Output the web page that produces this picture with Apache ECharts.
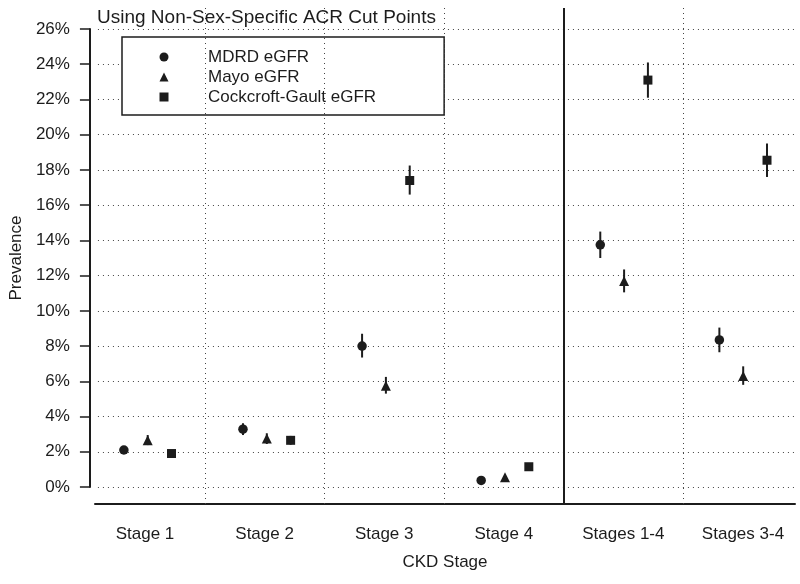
<!DOCTYPE html>
<html>
<head>
<meta charset="utf-8">
<script src="https://cdn.jsdelivr.net/npm/echarts@6/dist/echarts.min.js"></script>
<style>html,body{margin:0;padding:0;background:#fff;}#c{width:800px;height:584px;}</style>
</head>
<body>
<div id="c"></div>
<script>
const categories = ['Stage 1', 'Stage 2', 'Stage 3', 'Stage 4', 'Stages 1-4', 'Stages 3-4'];
const yTicks = [0, 2, 4, 6, 8, 10, 12, 14, 16, 18, 20, 22, 24, 26];

const mdrd     = [2.1, 3.28, 8.0, 0.37, 13.75, 8.35];
const mdrdLow  = [1.95, 2.95, 7.35, 0.3, 13.0, 7.65];
const mdrdHigh = [2.25, 3.62, 8.7, 0.45, 14.5, 9.05];

const mayo     = [2.65, 2.75, 5.75, 0.55, 11.7, 6.3];
const mayoLow  = [2.38, 2.44, 5.3, 0.45, 11.05, 5.8];
const mayoHigh = [2.95, 3.05, 6.25, 0.65, 12.35, 6.85];

const cg       = [1.9, 2.65, 17.4, 1.15, 23.1, 18.55];
const cgLow    = [1.75, 2.4, 16.6, 1.0, 22.1, 17.6];
const cgHigh   = [2.05, 2.9, 18.25, 1.3, 24.1, 19.5];

const seriesNames = ['MDRD eGFR', 'Mayo eGFR', 'Cockcroft-Gault eGFR'];
const groupOffsets = [-0.2, 0, 0.2];
const separators = [0.5, 1.5, 2.5, 3.5, 4.5];

const FONT = "'Liberation Sans', Arial, Helvetica, sans-serif";
const INK = '#1c1c1c';
const X_MIN = -0.418, X_MAX = 5.435;

const groups = [
  {name: seriesNames[0], v: mdrd, lo: mdrdLow, hi: mdrdHigh, symbol: 'circle', size: 9.5},
  {name: seriesNames[1], v: mayo, lo: mayoLow, hi: mayoHigh, symbol: 'triangle', size: 10},
  {name: seriesNames[2], v: cg, lo: cgLow, hi: cgHigh, symbol: 'rect', size: 9}
];

const series = [];
groups.forEach((g, gi) => {
  series.push({
    type: 'custom',
    xAxisIndex: 0, yAxisIndex: 0,
    silent: true,
    z: 3,
    data: g.v.map((_, i) => [i + groupOffsets[gi], g.lo[i], g.hi[i]]),
    renderItem: function (params, api) {
      const p1 = api.coord([api.value(0), api.value(1)]);
      const p2 = api.coord([api.value(0), api.value(2)]);
      return {
        type: 'line',
        shape: {x1: p1[0], y1: p1[1], x2: p2[0], y2: p2[1]},
        style: {stroke: INK, lineWidth: 2}
      };
    }
  });
});
groups.forEach((g, gi) => {
  series.push({
    name: g.name,
    type: 'scatter',
    xAxisIndex: 0, yAxisIndex: 0,
    symbol: g.symbol,
    symbolSize: g.size,
    symbolKeepAspect: true,
    z: 4,
    itemStyle: {color: INK, opacity: 1},
    data: g.v.map((v, i) => [i + groupOffsets[gi], v])
  });
});
series.push({
  type: 'scatter',
  xAxisIndex: 1, yAxisIndex: 1,
  data: [],
  silent: true,
  z: 2,
  markLine: {
    silent: true,
    symbol: ['none', 'none'],
    label: {show: false},
    data: separators.map(s => ({
      xAxis: s,
      lineStyle: s === 3.5
        ? {color: INK, width: 2, type: 'solid'}
        : {color: '#444', width: 1, type: [1, 4]}
    }))
  }
});

const chart = echarts.init(document.getElementById('c'), null, {renderer: 'canvas'});
chart.setOption({
  animation: false,
  backgroundColor: '#fff',
  textStyle: {fontFamily: FONT, color: INK},
  title: {
    text: 'Using Non-Sex-Specific ACR Cut Points',
    left: 97, top: 8, padding: 0,
    textStyle: {fontFamily: FONT, fontSize: 19, fontWeight: 'normal', color: INK}
  },
  legend: {
    data: seriesNames,
    orient: 'vertical',
    left: 122, top: 37,
    itemWidth: 9, itemHeight: 9, itemGap: 0,
    symbolKeepAspect: true,
    padding: [10, 68, 8, 37.5],
    borderColor: INK, borderWidth: 1.5, borderRadius: 0,
    backgroundColor: '#fff',
    selectedMode: false,
    textStyle: {fontFamily: FONT, fontSize: 17, color: INK, lineHeight: 20, padding: [0, 0, 0, 34.5]}
  },
  grid: [
    {left: 95, right: 5, top: 29, bottom: 97, containLabel: false},
    {left: 95, right: 5, top: 8, bottom: 80, containLabel: false}
  ],
  xAxis: [
    {type: 'value', gridIndex: 0, min: X_MIN, max: X_MAX, show: false},
    {
      type: 'value', gridIndex: 1, min: X_MIN, max: X_MAX,
      axisLine: {show: true, onZero: false, lineStyle: {color: INK, width: 2}},
      axisTick: {show: false},
      splitLine: {show: false},
      axisLabel: {
        customValues: categories.map((_, i) => i),
        formatter: v => categories[Math.round(v)] || '',
        fontFamily: FONT, fontSize: 17, color: INK, margin: 22
      },
      name: 'CKD Stage', nameLocation: 'middle', nameGap: 50,
      nameTextStyle: {fontFamily: FONT, fontSize: 17, color: INK}
    }
  ],
  yAxis: [
    {
      type: 'value', gridIndex: 0, min: 0, max: 26, interval: 2, offset: 8,
      axisLine: {show: true, onZero: false, lineStyle: {color: INK, width: 2}},
      axisTick: {show: true, length: 10, lineStyle: {color: INK, width: 1.5}},
      splitLine: {show: true, lineStyle: {color: '#444', width: 1, type: [1, 4]}},
      axisLabel: {
        formatter: v => (yTicks.indexOf(v) >= 0 ? v + '%' : ''),
        fontFamily: FONT, fontSize: 17, color: INK, margin: 20
      },
      name: 'Prevalence', nameLocation: 'middle', nameGap: 62,
      nameTextStyle: {fontFamily: FONT, fontSize: 17, color: INK}
    },
    {type: 'value', gridIndex: 1, min: 0, max: 1, show: false}
  ],
  series: series
});
</script>
</body>
</html>
